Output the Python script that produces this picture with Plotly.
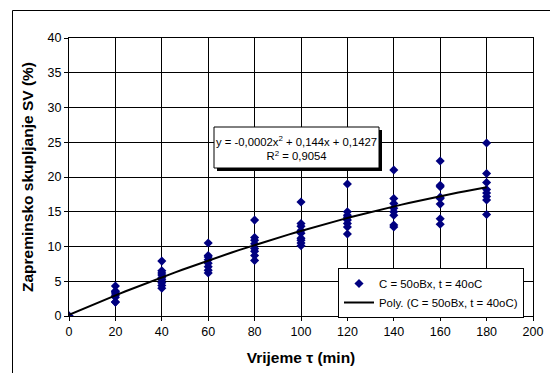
import numpy as np
import plotly.graph_objects as go

# ---- data ----
time_min = [0, 20, 40, 60, 80, 100, 120, 140, 160, 180]
shrinkage = [
    [0.0, 0.0, 0.0],
    [4.3, 3.6, 3.5, 3.3, 3.0, 2.7, 2.0, 2.0],
    [7.9, 6.5, 6.2, 5.9, 5.5, 5.2, 4.8, 4.4, 4.0],
    [10.5, 8.7, 8.5, 8.1, 7.6, 7.1, 6.6, 6.2],
    [13.8, 11.3, 10.9, 10.4, 9.7, 9.3, 8.7, 8.0],
    [16.4, 13.3, 12.9, 12.3, 11.9, 11.2, 10.9, 10.5, 10.1],
    [19.0, 15.0, 14.5, 14.2, 13.8, 13.3, 12.8, 11.8],
    [21.0, 16.9, 16.2, 15.5, 15.0, 14.5, 13.1, 12.8],
    [22.3, 18.8, 18.6, 17.1, 16.9, 16.1, 14.0, 13.2],
    [24.9, 20.5, 19.2, 18.2, 17.7, 17.2, 16.7, 14.6],
]
series_name = "C = 50oBx, t = 40oC"
trend_name = "Poly. (C = 50oBx, t = 40oC)"
equation_text = "y = -0,0002x<sup>2</sup> + 0,144x + 0,1427<br>R<sup>2</sup> = 0,9054"
x_ticks = list(range(0, 201, 20))
y_ticks = list(range(0, 41, 5))

xs = [t for t, vals in zip(time_min, shrinkage) for _ in vals]
ys = [v for vals in shrinkage for v in vals]

# polynomial (order 2) trendline fitted to the data, as Excel does
coef = np.polyfit(xs, ys, 2)
x_fit = np.linspace(0, 180, 60)
y_fit = np.polyval(coef, x_fit)

W, H = 550, 373
ML, MR, MT, MB = 69, 17, 38, 57
PW, PH = W - ML - MR, H - MT - MB
FONT = "Liberation Sans, Arial"

def px2paper_x(px):
    return (px - ML) / PW

def px2paper_y(py):
    return (H - MB - py) / PH

fig = go.Figure()
fig.add_trace(go.Scatter(
    x=xs, y=ys, mode="markers", name=series_name,
    marker=dict(symbol="diamond", size=7, color="#000080",
                line=dict(width=0)),
))
fig.add_trace(go.Scatter(
    x=x_fit, y=y_fit, mode="lines", name=trend_name,
    line=dict(color="black", width=2),
))

axis_common = dict(
    showline=True, linecolor="black", linewidth=1, mirror=True,
    showgrid=True, gridcolor="black", gridwidth=1,
    ticks="outside", ticklen=4, tickcolor="black",
    tickfont=dict(family=FONT, size=12.5, color="black"),
    zeroline=False, automargin=False,
)

fig.update_xaxes(range=[0, 200], tickvals=x_ticks,
                 title=dict(text="<b>Vrijeme τ (min)</b>",
                            font=dict(family=FONT, size=15.5, color="black"),
                            standoff=14),
                 **axis_common)
fig.update_yaxes(range=[0, 40], tickvals=y_ticks,
                 title=dict(text="<b>Zapreminsko skupljanje SV (%)</b>",
                            font=dict(family=FONT, size=15.5, color="black"),
                            standoff=10),
                 **axis_common)

# shadowed equation box
bx0, by0, bx1, by1 = 214, 127, 379, 168
fig.add_shape(type="rect", xref="paper", yref="paper",
              x0=px2paper_x(bx0 + 3), x1=px2paper_x(bx1 + 3),
              y0=px2paper_y(by1 + 3), y1=px2paper_y(by0 + 3),
              fillcolor="black", line=dict(width=0), layer="above")
fig.add_shape(type="rect", xref="paper", yref="paper",
              x0=px2paper_x(bx0), x1=px2paper_x(bx1),
              y0=px2paper_y(by1), y1=px2paper_y(by0),
              fillcolor="white", line=dict(color="black", width=1), layer="above")
fig.add_annotation(xref="paper", yref="paper",
                   x=px2paper_x((bx0 + bx1) / 2), y=px2paper_y((by0 + by1) / 2),
                   text=equation_text, showarrow=False, align="center",
                   font=dict(family=FONT, size=11.3, color="black"))

# outer chart-area frame (top and left edges visible)
fig.add_shape(type="line", xref="paper", yref="paper",
              x0=px2paper_x(12.5), x1=px2paper_x(W + 2),
              y0=px2paper_y(10.5), y1=px2paper_y(10.5),
              line=dict(color="black", width=1), layer="above")
fig.add_shape(type="line", xref="paper", yref="paper",
              x0=px2paper_x(12.5), x1=px2paper_x(12.5),
              y0=px2paper_y(10.5), y1=px2paper_y(H + 2),
              line=dict(color="black", width=1), layer="above")

fig.update_layout(
    width=W, height=H,
    margin=dict(l=ML, r=MR, t=MT, b=MB, autoexpand=False),
    paper_bgcolor="white", plot_bgcolor="white",
    showlegend=True,
    legend=dict(x=px2paper_x(338), y=px2paper_y(268), xanchor="left", yanchor="top",
                bgcolor="white", bordercolor="black", borderwidth=1,
                font=dict(family=FONT, size=11.4, color="black"),
                tracegroupgap=0, itemwidth=30),
    font=dict(family=FONT, color="black"),
)

fig.write_html("out.html",
               config={"displayModeBar": False},
               post_script="document.body.style.margin='0';document.body.style.overflow='hidden';")
